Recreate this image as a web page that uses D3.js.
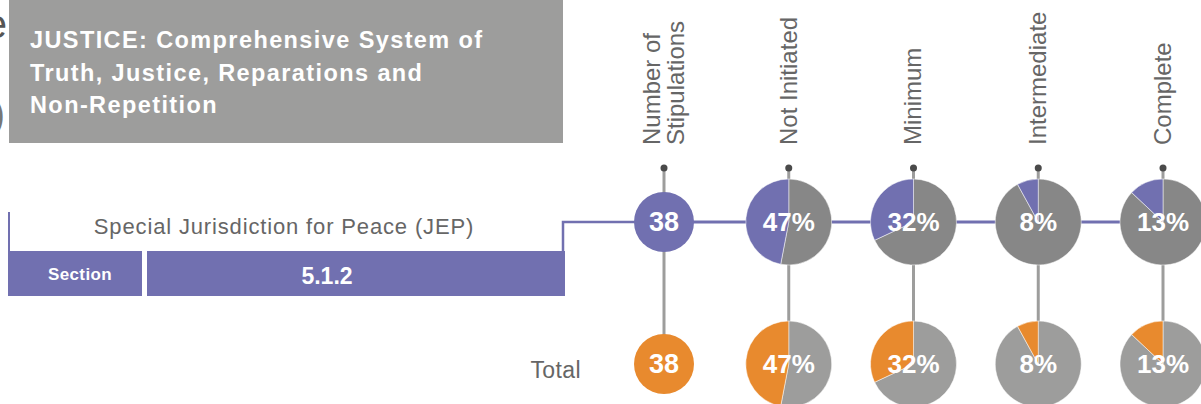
<!DOCTYPE html>
<html>
<head>
<meta charset="utf-8">
<script src="https://cdn.jsdelivr.net/npm/d3@7"></script>
<style>
body{margin:0;background:#fff;}
svg text{font-family:"Liberation Sans",Arial,Helvetica,sans-serif;}
</style>
</head>
<body>
<div id="vis"></div>
<script>
// chart values
var titleLines = ["JUSTICE: Comprehensive System of", "Truth, Justice, Reparations and", "Non-Repetition"];
var subject = "Special Jurisdiction for Peace (JEP)";
var sectionLabel = "Section";
var sectionCode = "5.1.2";
var columns = ["Number of|Stipulations", "Not Initiated", "Minimum", "Intermediate", "Complete"];
var stipulations = [38];
var topShares = [0.47, 0.32, 0.08, 0.13];
var bottomShares = [0.47, 0.32, 0.08, 0.13];
var rowLabel = "Total";

var purple = "#7170b0", orange = "#e88a2e", greyDark = "#878787", greyLight = "#9d9d9c", textGrey = "#666";

var svg = d3.select("#vis").append("svg")
.attr("width",1201)
.attr("height",404);

var x = d3.scalePoint()
.domain(columns)
.range([664,1163]);

var rowY = d3.scalePoint()
.domain(["top","bottom"])
.range([222,364]);

// clipped page text at far left
svg.append("text").text("e").attr("x",7).attr("y",38)
.attr("text-anchor","end").attr("font-size",40).attr("fill","#555");
svg.append("text").text(")").attr("x",5).attr("y",128)
.attr("text-anchor","end").attr("font-size",40).attr("fill","#777");

// title box
svg.append("rect").attr("x",9).attr("y",0).attr("width",554).attr("height",143).attr("fill",greyLight);
svg.append("g").selectAll("text")
.data(titleLines)
.enter().append("text")
.attr("x",30)
.attr("y",(d,i) => 48 + i*32.5)
.attr("fill","#fff")
.attr("font-size",23.5)
.attr("letter-spacing",1.4)
.attr("font-weight","bold")
.text(d => d);

// bracket + section boxes
svg.append("path")
.attr("d","M9,212V251")
.attr("stroke",purple).attr("stroke-width",2).attr("fill","none");
svg.append("path")
.attr("d","M563,251V222H" + x(columns[0]))
.attr("stroke",purple).attr("stroke-width",2.5).attr("fill","none");
svg.append("path")
.attr("d","M" + x(columns[0]) + "," + rowY("top") + "H1201")
.attr("stroke",purple).attr("stroke-width",3).attr("fill","none");

svg.append("text").text(subject)
.attr("x",284).attr("y",234).attr("text-anchor","middle")
.attr("font-size",22).attr("letter-spacing",0.85).attr("fill",textGrey);

svg.append("rect").attr("x",8).attr("y",251).attr("width",134).attr("height",45).attr("fill",purple);
svg.append("rect").attr("x",147).attr("y",251).attr("width",418).attr("height",45).attr("fill",purple);
svg.append("text").text(sectionLabel).attr("x",80).attr("y",280)
.attr("text-anchor","middle").attr("font-size",17).attr("letter-spacing",0.4)
.attr("font-weight","bold").attr("fill","#fff");
svg.append("text").text(sectionCode).attr("x",327).attr("y",284)
.attr("text-anchor","middle").attr("font-size",23).attr("font-weight","bold").attr("fill","#fff");

svg.append("text").text(rowLabel).attr("x",581).attr("y",378)
.attr("text-anchor","end").attr("font-size",23).attr("letter-spacing",0.4).attr("fill",textGrey);

// column headers
var head = svg.append("g").selectAll("g")
.data(columns)
.enter().append("g")
.attr("transform",d => "translate(" + x(d) + ",145)rotate(-90)");
head.each(function(d){
  var lines = d.split("|");
  var g = d3.select(this);
  lines.forEach(function(l,i){
    g.append("text")
    .attr("x",0)
    .attr("y",(i - (lines.length-1)/2)*24)
    .attr("dy","0.33em")
    .attr("font-size",24)
    .attr("fill",textGrey)
    .text(l);
  });
});

// stems
svg.append("g").selectAll("line")
.data(columns)
.enter().append("line")
.attr("x1",d => x(d)).attr("x2",d => x(d))
.attr("y1",168).attr("y2",rowY("bottom"))
.attr("stroke",greyLight).attr("stroke-width",3);
svg.append("g").selectAll("circle")
.data(columns)
.enter().append("circle")
.attr("cx",d => x(d)).attr("cy",168).attr("r",3.5).attr("fill","#4a4a4a");

// number circles
[["top",purple],["bottom",orange]].forEach(function(r){
  svg.append("circle").attr("cx",x(columns[0])).attr("cy",rowY(r[0])).attr("r",30).attr("fill",r[1]);
  svg.append("text").text(stipulations[0])
  .attr("x",x(columns[0])).attr("y",rowY(r[0])).attr("dy","0.35em")
  .attr("text-anchor","middle").attr("font-size",27).attr("font-weight","bold").attr("fill","#fff");
});

// pies
var pie = d3.pie().sort(null);
var arc = d3.arc().innerRadius(0).outerRadius(43);
var fmt = d3.format(".0%");

function drawPies(shares,row,colour,rest){
  var g = svg.append("g").selectAll("g")
  .data(shares)
  .enter().append("g")
  .attr("transform",(d,i) => "translate(" + x(columns[i+1]) + "," + rowY(row) + ")");
  g.selectAll("path")
  .data(d => pie([1-d, d]))
  .enter().append("path")
  .attr("d",arc)
  .attr("fill",(d,i) => i===0 ? rest : colour)
  .attr("stroke","#fff").attr("stroke-width",0.5);
  g.append("text")
  .text(d => fmt(d))
  .attr("y",0).attr("dy","0.36em")
  .attr("text-anchor","middle")
  .attr("font-size",26).attr("font-weight","bold").attr("fill","#fff");
}
drawPies(topShares,"top",purple,greyDark);
drawPies(bottomShares,"bottom",orange,greyLight);
</script>
</body>
</html>
